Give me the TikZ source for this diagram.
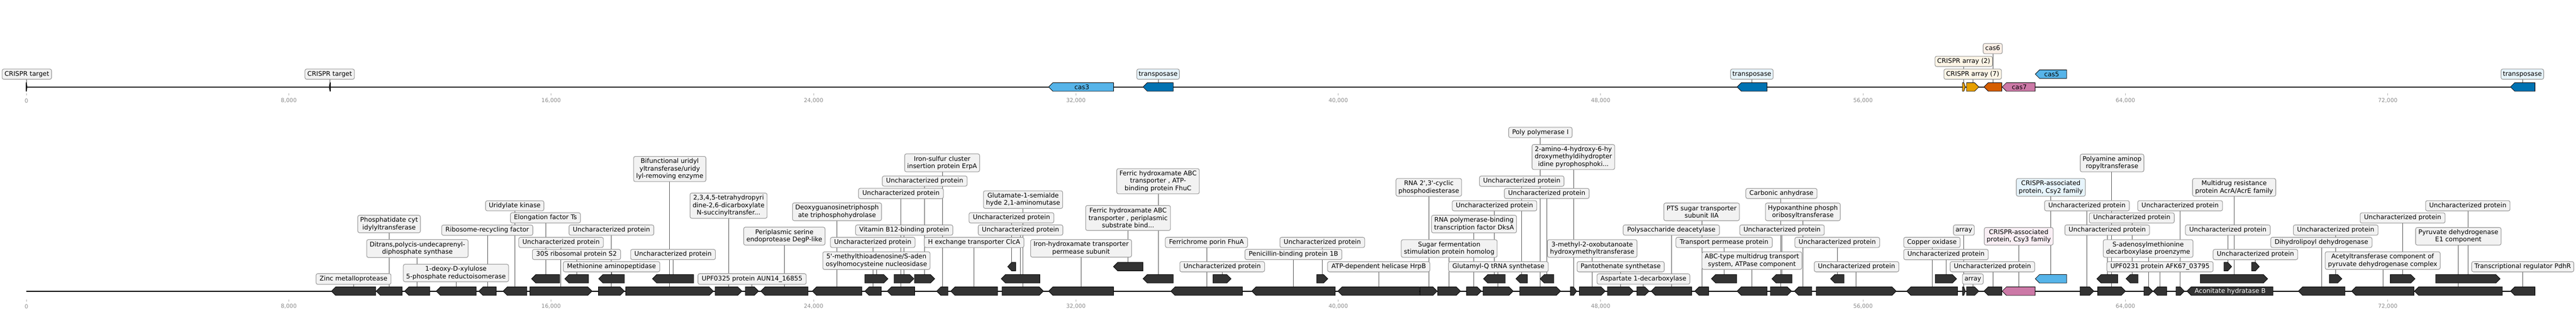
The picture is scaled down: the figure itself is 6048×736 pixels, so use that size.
\documentclass[tikz,border=0pt]{standalone}
\usepackage{fontspec}
\setmainfont{DejaVu Sans}
\usetikzlibrary{backgrounds}
\definecolor{gdark}{HTML}{333333}
\definecolor{bfill}{HTML}{F2F2F2}
\definecolor{bdraw}{HTML}{969696}
\definecolor{cblue}{HTML}{56B4E9}
\definecolor{cdblue}{HTML}{0072B2}
\definecolor{corange}{HTML}{E69F00}
\definecolor{cverm}{HTML}{D55E00}
\definecolor{cpink}{HTML}{CC79A7}
\definecolor{fblue}{HTML}{E6F4FC}
\definecolor{forange}{HTML}{FDF5E6}
\definecolor{fverm}{HTML}{FBEFE6}
\definecolor{fpink}{HTML}{F9EEF4}
\definecolor{tgrey}{HTML}{8C8C8C}
\definecolor{cline}{HTML}{505050}
\newcommand{\gn}[6]{%
  \pgfmathsetmacro\gl{#3-#2}%
  \pgfmathsetmacro\gh{min(10,0.5*\gl)}%
  \if#5L%
    \filldraw[gene,fill=#6] (#2,#4) -- ({#2+\gh},{#4-10}) -- (#3,{#4-10}) -- (#3,{#4+10}) -- ({#2+\gh},{#4+10}) -- cycle;%
  \else%
    \filldraw[gene,fill=#6] (#2,{#4-10}) -- ({#3-\gh},{#4-10}) -- (#3,#4) -- ({#3-\gh},{#4+10}) -- (#2,{#4+10}) -- cycle;%
  \fi%
  \coordinate (#1) at ({(#2+#3)/2},{#4-10});%
}
\newcommand{\lb}[8]{%
  \pgfmathsetmacro\lw{#4-#3}\pgfmathsetmacro\lh{#6-#5}%
  \node[box,#7,minimum width=\lw pt,minimum height=\lh pt] (#1) at ({(#3+#4)/2},{(#5+#6)/2}) {#8};%
  \begin{pgfonlayer}{background}\draw[conn] (#1.south -| #2) -- (#2);\end{pgfonlayer}%
}
\begin{document}
\begin{tikzpicture}[x=1pt,y=-1pt,scale=0.5,
  every node/.append style={transform shape},
  gene/.style={draw=black,line width=0.5pt,line join=miter},
  box/.style={draw=bdraw,fill=bfill,line width=0.65pt,rounded corners=2pt,inner xsep=1pt,inner ysep=1pt,align=center,font=\fontsize{15}{17.5}\selectfont},
  one/.style={text height=11.4pt,text depth=3.6pt},
  conn/.style={draw=cline,line width=0.5pt},
  track/.style={draw=black,line width=1.25pt},
  tickst/.style={draw=tgrey!70,line width=0.5pt},
  ticklab/.style={text=tgrey,font=\fontsize{13}{15}\selectfont,inner sep=0pt},
  intext/.style={font=\fontsize{15}{17.5}\selectfont,inner sep=0pt}]
\useasboundingbox (0,0) rectangle (6048,736);
\begin{pgfonlayer}{background}
\fill[white] (0,0) rectangle (6048,736);
\draw[track] (62,204) -- (5951.6,204);
\draw[track] (62,683) -- (5951.6,683);
\end{pgfonlayer}
% axis ticks
\foreach \i/\t in {0/0,1/{8,000},2/{16,000},3/{24,000},4/{32,000},5/{40,000},6/{48,000},7/{56,000},8/{64,000},9/{72,000}}{
  \draw[tickst] ({62+616*\i},219) -- ({62+616*\i},224);
  \node[ticklab] (ta\i) at ({62+616*\i},236.5) {\t};
  \draw[tickst] ({62+616*\i},703) -- ({62+616*\i},707.5);
  \node[ticklab] (tb\i) at ({62+616*\i},719) {\t};
}
% ---------- top track genes
\gn{t1}{61}{63.5}{204}{R}{gdark}
\gn{t2}{773}{776}{204}{L}{gdark}
\gn{t3}{2462}{2614.4}{204}{L}{cblue}
\gn{t4}{2683.5}{2754.6}{204}{L}{cdblue}
\gn{t5}{4078.3}{4148.7}{204}{L}{cdblue}
\gn{t6}{4607.4}{4614}{204}{R}{corange}
\gn{t7}{4617}{4646}{204}{R}{corange}
\gn{t8}{4658}{4699.7}{204}{L}{cverm}
\gn{t9}{4700.7}{4778}{204}{L}{cpink}
\gn{t10}{4778.4}{4852}{174}{L}{cblue}
\gn{t11}{5894}{5951.6}{204}{L}{cdblue}
\node[intext] (icas3) at (2540,204) {cas3};
\node[intext] (icas7) at (4741,204) {cas7};
\node[intext] (icas5) at (4817,174) {cas5};
% ---------- bottom track genes, row 1
\gn{g1}{778}{882}{683}{L}{gdark}
\gn{g2}{883}{944}{683}{L}{gdark}
\gn{g3}{950}{1009}{683}{L}{gdark}
\gn{g4}{1024}{1118}{683}{L}{gdark}
\gn{g5}{1124}{1165}{683}{L}{gdark}
\gn{g6}{1181}{1237}{683}{L}{gdark}
\gn{g7}{1244}{1390}{683}{R}{gdark}
\gn{g8}{1405}{1466}{683}{R}{gdark}
\gn{g9}{1469}{1675}{683}{R}{gdark}
\gn{g10}{1679}{1742}{683}{R}{gdark}
\gn{g11}{1750}{1781}{683}{R}{gdark}
\gn{g12}{1786}{1897}{683}{L}{gdark}
\gn{g13}{1907}{2023.5}{683}{L}{gdark}
\gn{g14}{2030.5}{2069}{683}{L}{gdark}
\gn{g15}{2083}{2147.6}{683}{L}{gdark}
\gn{g16}{2199}{2225.7}{683}{L}{gdark}
\gn{g17}{2232}{2342}{683}{L}{gdark}
\gn{g18}{2352.6}{2450}{683}{R}{gdark}
\gn{g19}{2462}{2614.4}{683}{L}{gdark}
\gn{g20}{2748.7}{2917}{683}{L}{gdark}
\gn{g21}{2938.8}{3135}{683}{L}{gdark}
\gn{g22}{3141}{3332.8}{683}{L}{gdark}
\gn{g23}{3333.8}{3374.4}{683}{R}{gdark}
\gn{g24}{3375.4}{3429}{683}{R}{gdark}
\gn{g25}{3443}{3478}{683}{R}{gdark}
\gn{g26}{3482}{3552.7}{683}{R}{gdark}
\gn{g27}{3568}{3664}{683}{R}{gdark}
\gn{g28}{3687}{3701.7}{683}{R}{gdark}
\gn{g29}{3708}{3769}{683}{R}{gdark}
\gn{g30}{3774}{3835}{683}{R}{gdark}
\gn{g31}{3843}{3871.7}{683}{R}{gdark}
\gn{g32}{3876.6}{3971.8}{683}{L}{gdark}
\gn{g33}{3979}{4011.4}{683}{L}{gdark}
\gn{g34}{4078.3}{4148.7}{683}{L}{gdark}
\gn{g35}{4156.5}{4206.3}{683}{R}{gdark}
\gn{g36}{4212.7}{4253.7}{683}{L}{gdark}
\gn{g37}{4264}{4452}{683}{R}{gdark}
\gn{g38}{4476.5}{4596}{683}{L}{gdark}
\gn{g39}{4607.4}{4614}{683}{R}{gdark}
\gn{g40}{4617}{4646}{683}{R}{gdark}
\gn{g41}{4658}{4699.7}{683}{L}{gdark}
\gn{g42}{4700.7}{4778}{683}{L}{cpink}
\gn{g43}{4883.4}{4916}{683}{R}{gdark}
\gn{g44}{4925}{4990.4}{683}{R}{gdark}
\gn{g45}{5033.4}{5054.4}{683}{R}{gdark}
\gn{g46}{5055.4}{5087}{683}{L}{gdark}
\gn{g47}{5109}{5128.6}{683}{R}{gdark}
\gn{g48}{5134.5}{5336.6}{683}{L}{gdark}
\gn{g49}{5396}{5505.7}{683}{L}{gdark}
\gn{g50}{5521}{5667.5}{683}{L}{gdark}
\gn{g51}{5668.5}{5875}{683}{L}{gdark}
\gn{g52}{5894}{5951.6}{683}{L}{gdark}
\node[intext,text=white] (iacon) at (5236,683) {Aconitate hydratase B};
% row 2
\gn{h1}{1248}{1314}{654}{L}{gdark}
\gn{h2}{1326}{1381.5}{654}{L}{gdark}
\gn{h3}{1405.6}{1466}{654}{L}{gdark}
\gn{h4}{1531.7}{1628.5}{654}{L}{gdark}
\gn{h5}{2030.5}{2084.8}{654}{R}{gdark}
\gn{h6}{2099}{2145.7}{654}{R}{gdark}
\gn{h7}{2147}{2194.5}{654}{R}{gdark}
\gn{h8}{2350.6}{2441.5}{654}{L}{gdark}
\gn{h9}{2683.5}{2754.6}{654}{L}{gdark}
\gn{h10}{2848}{2890.4}{654}{R}{gdark}
\gn{h11}{3091.5}{3117.4}{654}{R}{gdark}
\gn{h12}{3483}{3534}{654}{L}{gdark}
\gn{h13}{3559}{3586}{654}{L}{gdark}
\gn{h14}{3615.7}{3648}{654}{L}{gdark}
\gn{h15}{4018}{4077.4}{654}{L}{gdark}
\gn{h16}{4160}{4207.3}{654}{L}{gdark}
\gn{h17}{4297.7}{4329.4}{654}{L}{gdark}
\gn{h18}{4543.4}{4593.7}{654}{R}{gdark}
\gn{h19}{4778.4}{4852}{654}{L}{cblue}
\gn{h20}{4923}{4972.3}{654}{L}{gdark}
\gn{h21}{4991.4}{5019.7}{654}{L}{gdark}
\gn{h22}{5166}{5324}{654}{R}{gdark}
\gn{h23}{5469}{5498.4}{654}{R}{gdark}
\gn{h24}{5612}{5670}{654}{R}{gdark}
\gn{h25}{5718.7}{5869.8}{654}{R}{gdark}
% row 3
\gn{k1}{2365.8}{2384.5}{625.5}{L}{gdark}
\gn{k2}{2614}{2683.5}{625.5}{L}{gdark}
\gn{k3}{5221.5}{5239.5}{625.5}{R}{gdark}
\gn{k4}{5286.4}{5304.5}{625.5}{R}{gdark}
% ---------- top labels
\lb{bt1}{t1}{5}{121}{162}{186}{one}{CRISPR target}
\lb{bt2}{t2}{716}{832}{162}{186}{one}{CRISPR target}
\lb{bt4}{t4}{2669}{2769}{162}{186}{one,fill=fblue}{transposase}
\lb{bt5}{t5}{4063}{4163}{162}{186}{one,fill=fblue}{transposase}
\lb{bt7}{t7}{4564}{4699}{162}{186}{one,fill=forange}{CRISPR array (7)}
\lb{bt6}{t6}{4543}{4678}{132}{156}{one,fill=forange}{CRISPR array (2)}
\lb{bt8}{t8}{4656}{4701}{102}{126}{one,fill=fverm}{cas6}
\lb{bt11}{t11}{5872}{5972}{162}{186}{one,fill=fblue}{transposase}
% ---------- bottom labels
\lb{bg1}{g1}{742}{918}{642}{667}{one}{Zinc metalloprotease}
\lb{bg2}{g2}{840}{987}{505}{546}{}{Phosphatidate cyt\\idylyltransferase}
\lb{bg3}{g3}{861}{1099}{562}{604}{}{Ditrans,polycis-undecaprenyl-\\diphosphate synthase}
\lb{bg4}{g4}{947}{1194}{620}{661}{}{1-deoxy-D-xylulose\\5-phosphate reductoisomerase}
\lb{bg5}{g5}{1037}{1251}{528}{552}{one}{Ribosome-recycling factor}
\lb{bg6}{g6}{1140}{1277}{471}{494.5}{one}{Uridylate kinase}
\lb{bh1}{h1}{1198.4}{1362.7}{499}{523}{one}{Elongation factor Ts}
\lb{bg7}{g7}{1218}{1416.6}{556.7}{580.7}{one}{Uncharacterized protein}
\lb{bg8}{g8}{1336}{1535}{527.7}{551.7}{one}{Uncharacterized protein}
\lb{bh2}{h2}{1250}{1457}{585}{609}{one}{30S ribosomal protein S2}
\lb{bh3}{h3}{1322.5}{1549}{613.7}{637.7}{one}{Methionine aminopeptidase}
\lb{bh4}{h4}{1480.6}{1679.7}{585}{609}{one}{Uncharacterized protein}
\lb{bg9}{g9}{1487.6}{1657.4}{367}{426}{}{Bifunctional uridyl\\yltransferase/uridy\\lyl-removing enzyme}
\lb{bg10}{g10}{1620}{1801}{453}{512}{}{2,3,4,5-tetrahydropyri\\dine-2,6-dicarboxylate\\N-succinyltransfer...}
\lb{bg11}{g11}{1638.7}{1892.8}{642}{667}{one}{UPF0325 protein AUN14\_16855}
\lb{bg12}{g12}{1746}{1937}{533}{575}{}{Periplasmic serine\\endoprotease DegP-like}
\lb{bg13}{g13}{1860.7}{2069.6}{476}{517.7}{}{Deoxyguanosinetriphosph\\ate triphosphohydrolase}
\lb{bg14}{g14}{1949.7}{2148.4}{556.7}{580.7}{one}{Uncharacterized protein}
\lb{bh5}{h5}{1931.8}{2183.5}{590.7}{632.3}{}{5\textquotesingle-methylthioadenosine/S-aden\\osylhomocysteine nucleosidase}
\lb{bg15}{g15}{2015.7}{2214.8}{441.7}{466}{one}{Uncharacterized protein}
\lb{bh6}{h6}{2008.7}{2237}{527.7}{551.7}{one}{Vitamin B12-binding protein}
\lb{bh7}{h7}{2071.5}{2270.6}{413}{436.7}{one}{Uncharacterized protein}
\lb{bg16}{g16}{2124}{2300}{361}{403}{}{Iron-sulfur cluster\\insertion protein ErpA}
\lb{bg17}{g17}{2170}{2404}{556.7}{580.7}{one}{H exchange transporter ClcA}
\lb{bg18}{g18}{2309}{2495}{447.7}{489}{}{Glutamate-1-semialde\\hyde 2,1-aminomutase}
\lb{bk1}{k1}{2275}{2474.3}{499}{523}{one}{Uncharacterized protein}
\lb{bh8}{h8}{2296.7}{2495.4}{527.7}{551.7}{one}{Uncharacterized protein}
\lb{bg19}{g19}{2419.7}{2656.6}{562}{603.3}{}{Iron-hydroxamate transporter\\permease subunit}
\lb{bk2}{k2}{2549}{2748}{482}{540.7}{}{Ferric hydroxamate ABC\\transporter , periplasmic\\substrate bind...}
\lb{bh9}{h9}{2621.9}{2815.8}{395.7}{454.7}{}{Ferric hydroxamate ABC\\transporter , ATP-\\binding protein FhuC}
\lb{bg20}{g20}{2736}{2929}{556.7}{580.7}{one}{Ferrichrome porin FhuA}
\lb{bh10}{h10}{2770}{2969}{613.7}{637.7}{one}{Uncharacterized protein}
\lb{bg21}{g21}{2923}{3150.6}{585}{609}{one}{Penicillin-binding protein 1B}
\lb{bh11}{h11}{3005}{3204}{556.7}{580.7}{one}{Uncharacterized protein}
\lb{bg22}{g22}{3117}{3357}{613.7}{637.7}{one}{ATP-dependent helicase HrpB}
\lb{bg23}{g23}{3277.6}{3431.5}{418.7}{460.3}{}{RNA 2\textquotesingle,3\textquotesingle-cyclic\\phosphodiesterase}
\lb{bg24}{g24}{3289.9}{3515}{562.3}{603.7}{}{Sugar fermentation\\stimulation protein homolog}
\lb{bg25}{g25}{3361}{3560.5}{505}{546.3}{}{RNA polymerase-binding\\transcription factor DksA}
\lb{bg26}{g26}{3401}{3635}{613.7}{637.7}{one}{Glutamyl-Q tRNA synthetase}
\lb{bh12}{h12}{3409.6}{3608}{470.7}{494.7}{one}{Uncharacterized protein}
\lb{bh13}{h13}{3473.5}{3672}{413}{437}{one}{Uncharacterized protein}
\lb{bh14}{h14}{3532}{3731}{442}{465.7}{one}{Uncharacterized protein}
\lb{bg27}{g27}{3542}{3691}{298.7}{322.7}{one}{Poly polymerase I}
\lb{bg28}{g28}{3597}{3791}{339}{397.7}{}{2-amino-4-hydroxy-6-hy\\droxymethyldihydropter\\idine pyrophosphoki...}
\lb{bg29}{g29}{3633}{3843.4}{562.3}{603.7}{}{3-methyl-2-oxobutanoate\\hydroxymethyltransferase}
\lb{bg30}{g30}{3702.7}{3907.3}{613.7}{637.7}{one}{Pantothenate synthetase}
\lb{bg31}{g31}{3749.6}{3967.4}{642.3}{666.7}{one}{Aspartate 1-decarboxylase}
\lb{bg32}{g32}{3811}{4036.8}{527.7}{551.7}{one}{Polysaccharide deacetylase}
\lb{bg33}{g33}{3906.4}{4083.7}{476.3}{517.7}{}{PTS sugar transporter\\subunit IIA}
\lb{bh15}{h15}{3934.7}{4161}{556.7}{580.7}{one}{Transport permease protein}
\lb{bg34}{g34}{3995.8}{4230.3}{590.7}{632}{}{ABC-type multidrug transport\\system, ATPase component}
\lb{bg35}{g35}{4098.9}{4266}{442}{465.7}{one}{Carbonic anhydrase}
\lb{bh16}{h16}{4084.7}{4283}{527.7}{551.7}{one}{Uncharacterized protein}
\lb{bg36}{g36}{4145}{4320.6}{476.3}{517.7}{}{Hypoxanthine phosph\\oribosyltransferase}
\lb{bh17}{h17}{4214}{4413}{556.7}{580.7}{one}{Uncharacterized protein}
\lb{bg37}{g37}{4259.6}{4458}{613.7}{637.7}{one}{Uncharacterized protein}
\lb{bg38}{g38}{4469.6}{4602}{556.7}{580.7}{one}{Copper oxidase}
\lb{bh18}{h18}{4469.6}{4668}{585}{609.3}{one}{Uncharacterized protein}
\lb{bg39}{g39}{4586.4}{4635.2}{527.7}{551.7}{one}{array}
\lb{bg40}{g40}{4607.4}{4656.3}{642.3}{666.7}{one}{array}
\lb{bg41}{g41}{4578.6}{4777}{613.7}{637.7}{one}{Uncharacterized protein}
\lb{bg42}{g42}{4658.7}{4820.4}{533.7}{575}{fill=fpink}{CRISPR-associated\\protein, Csy3 family}
\lb{bh19}{h19}{4734}{4896}{418.7}{460.3}{fill=fblue}{CRISPR-associated\\protein, Csy2 family}
\lb{bg43}{g43}{4800.4}{4999.2}{470.7}{494.7}{one}{Uncharacterized protein}
\lb{bg44}{g44}{4884}{5033.4}{361.7}{403}{}{Polyamine aminop\\ropyltransferase}
\lb{bh20}{h20}{4848}{5046.6}{527.7}{551.7}{one}{Uncharacterized protein}
\lb{bh21}{h21}{4905.4}{5104.7}{499.3}{523.3}{one}{Uncharacterized protein}
\lb{bg45}{g45}{4938}{5148.7}{562.3}{603.7}{}{S-adenosylmethionine\\decarboxylase proenzyme}
\lb{bg46}{g46}{4946.4}{5196}{613.7}{637.7}{one}{UPF0231 protein AFK67\_03795}
\lb{bg47}{g47}{5019}{5218}{470.7}{494.7}{one}{Uncharacterized protein}
\lb{bh22}{h22}{5147.7}{5343}{418.7}{460.3}{}{Multidrug resistance\\protein AcrA/AcrE family}
\lb{bk3}{k3}{5131}{5330}{527.7}{551.7}{one}{Uncharacterized protein}
\lb{bk4}{k4}{5196}{5394.6}{585}{609.3}{one}{Uncharacterized protein}
\lb{bg49}{g49}{5331.3}{5569}{556.7}{580.7}{one}{Dihydrolipoyl dehydrogenase}
\lb{bh23}{h23}{5384.4}{5583.2}{527.7}{551.7}{one}{Uncharacterized protein}
\lb{bg50}{g50}{5459}{5729}{590.7}{632}{}{Acetyltransferase component of\\pyruvate dehydrogenase complex}
\lb{bh24}{h24}{5541.3}{5740.6}{499.3}{523.3}{one}{Uncharacterized protein}
\lb{bg51}{g51}{5671.4}{5872}{533.7}{575}{}{Pyruvate dehydrogenase\\E1 component}
\lb{bh25}{h25}{5694.8}{5893}{470.7}{494.7}{one}{Uncharacterized protein}
\lb{bg52}{g52}{5803}{6042.8}{613.7}{637.7}{one}{Transcriptional regulator PdhR}
\end{tikzpicture}
\end{document}
